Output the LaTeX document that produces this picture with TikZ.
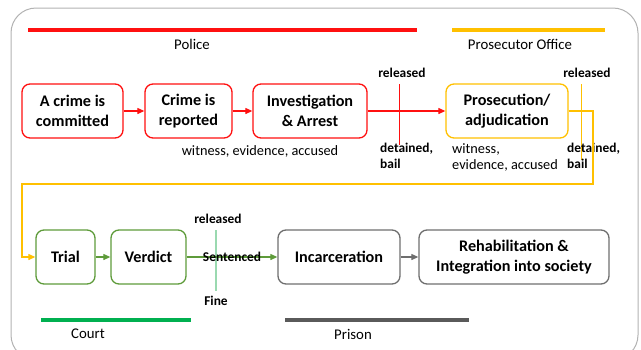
\documentclass[tikz,border=0pt]{standalone}
\usepackage{fontspec}
\setmainfont{Carlito}
\usetikzlibrary{arrows.meta}

\definecolor{polred}{HTML}{FF1010}
\definecolor{prosyellow}{HTML}{FFC000}
\definecolor{courtgreen}{HTML}{00B050}
\definecolor{boxgreen}{HTML}{5E9B3A}
\definecolor{mintgreen}{HTML}{9AD9B0}
\definecolor{boxgray}{HTML}{6E6E6E}
\definecolor{prisongray}{HTML}{5A5A5A}

\begin{document}
\begin{tikzpicture}[x=1pt,y=-1pt,
    stage/.style={draw,rounded corners=8pt,line width=1.3pt,minimum height=54pt,align=center,
      font=\fontsize{16.2}{19.5}\selectfont\bfseries,inner sep=2pt},
    flow/.style={line width=1.1pt,-{Triangle[length=7pt,width=6pt]}},
    bar/.style={line width=4pt},
    office/.style={font=\fontsize{14.8}{18}\selectfont},
    note/.style={font=\fontsize{14.3}{16.5}\selectfont,align=left},
    outcome/.style={font=\fontsize{13.4}{16}\selectfont\bfseries,align=left,inner sep=0pt}]
      \clip (0,0) rectangle (641,349);
      \draw[gray!60,line width=1pt,rounded corners=25pt] (11,8) rectangle (638,360);

      % agencies
      \draw[bar,polred] (28,30) -- (417,30);
      \node[office] (police) at (192,44) {Police};
      \draw[bar,prosyellow] (452,30) -- (605,30);
      \node[office] (prosoffice) at (520,44) {Prosecutor Office};
      \draw[bar,courtgreen] (41,320) -- (191,320);
      \node[office] (court) at (88,334) {Court};
      \draw[bar,prisongray] (285,320) -- (469,320);
      \node[office] (prison) at (353,334) {Prison};

      % first row
      \node[stage,polred,text=black,minimum width=101pt] (committed) at (72.5,111) {A crime is\\committed};
      \node[stage,polred,text=black,minimum width=87pt] (reported) at (188.5,111) {Crime is\\reported};
      \node[stage,polred,text=black,minimum width=114pt] (arrest) at (310,111) {Investigation\\\& Arrest};
      \node[stage,prosyellow,text=black,minimum width=122pt] (prosecution) at (507,111) {Prosecution/\\adjudication};

      \node[note,anchor=north] (evidence1) at (260,142) {witness, evidence, accused};
      \node[note,anchor=north west,inner sep=0pt] (evidence2) at (452,143) {witness,\\evidence, accused};

      % cut lines, filled thin strips
      \coordinate (cutA) at (398.8,84);
      \coordinate (cutB) at (400.2,145);
      \fill[polred] (cutA) rectangle (cutB);
      \node[outcome] (releasedA) at (402,73) {released};
      \node[outcome,anchor=north west] (detainedA) at (380,143) {detained,\\bail};

      \coordinate (cutC) at (580.8,84);
      \coordinate (cutD) at (582.2,160);
      \fill[prosyellow] (cutC) rectangle (cutD);
      \node[outcome] (releasedB) at (587,73) {released};
      \node[outcome,anchor=north west] (detainedB) at (567,143) {detained,\\bail};

      \draw[flow,polred] (committed) -- (reported);
      \draw[flow,polred] (reported) -- (arrest);
      \draw[flow,polred] (arrest) -- (prosecution);

      % second row
      \node[stage,boxgreen,text=black,minimum width=59pt] (trial) at (65.5,257) {Trial};
      \node[stage,boxgreen,text=black,minimum width=75pt] (verdict) at (148.5,257) {Verdict};
      \node[stage,boxgray,text=black,minimum width=122pt] (incarceration) at (339,257) {Incarceration};
      \node[stage,boxgray,text=black,minimum width=190pt] (rehab) at (514,257) {Rehabilitation \&\\Integration into society};

      \coordinate (turnA) at (593,184);
      \coordinate (turnB) at (22,184);
      \draw[flow,prosyellow] (prosecution.east) -| (turnA) -- (turnB) |- (trial.west);

      \draw[flow,boxgreen] (trial) -- (verdict);
      \coordinate (cutE) at (215.3,230);
      \coordinate (cutF) at (216.7,291);
      \fill[mintgreen] (cutE) rectangle (cutF);
      \draw[flow,boxgreen] (verdict) -- node[outcome,text=black] (sentenced) {Sentenced} (incarceration);
      \node[outcome] (releasedC) at (218,219) {released};
      \node[outcome] (fine) at (216,301) {Fine};

      \draw[flow,boxgray] (incarceration) -- (rehab);
    \end{tikzpicture}
\end{document}
